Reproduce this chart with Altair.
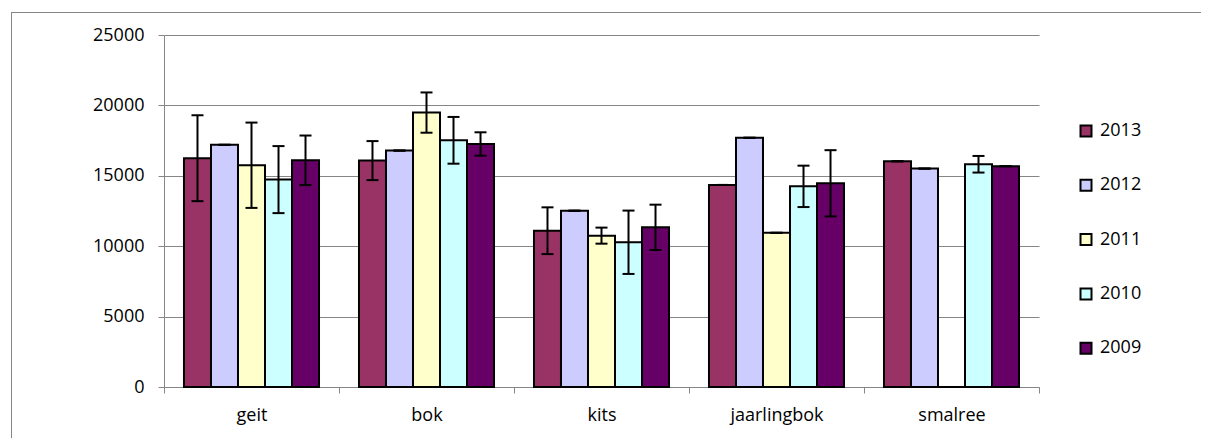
import altair as alt
import pandas as pd

categories = ["geit", "bok", "kits", "jaarlingbok", "smalree"]
years = ["2013", "2012", "2011", "2010", "2009"]
colors = ["#993366", "#CCCCFF", "#FFFFCC", "#CCFFFF", "#660066"]

v2013 = [16250, 16080, 11100, 14350, 16030]
v2012 = [17200, 16790, 12520, 17700, 15510]
v2011 = [15750, 19490, 10750, 10950, 0]
v2010 = [14730, 17520, 10280, 14250, 15820]
v2009 = [16100, 17260, 11340, 14470, 15680]

e2013 = [3050, 1385, 1660, 0, 0]
e2012 = [0, 0, 0, 0, 0]
e2011 = [3030, 1430, 570, 0, 0]
e2010 = [2380, 1660, 2250, 1470, 590]
e2009 = [1760, 830, 1610, 2350, 0]

vals = {"2013": v2013, "2012": v2012, "2011": v2011, "2010": v2010, "2009": v2009}
errs = {"2013": e2013, "2012": e2012, "2011": e2011, "2010": e2010, "2009": e2009}

rows = []
for y in years:
    for i, c in enumerate(categories):
        v = vals[y][i]
        e = errs[y][i]
        rows.append({"cat": c, "year": y, "value": v, "lo": v - e, "hi": v + e})
df = pd.DataFrame(rows)

FONT = "Open Sans"
GRAY = "#868686"
SW = 2

x_enc = alt.X("cat:N", sort=categories, title=None,
              scale=alt.Scale(paddingInner=0, paddingOuter=0),
              axis=alt.Axis(labelAngle=0, tickBand="extent", domainColor=GRAY,
                            tickColor=GRAY, tickSize=6, labelPadding=13,
                            labelFontSize=18, labelFont=FONT, labelColor="black",
                            grid=False))
xo_enc = alt.XOffset("year:N", sort=years,
                     scale=alt.Scale(paddingInner=0, paddingOuter=0.74))

bars = alt.Chart(df).mark_bar(stroke="black", strokeWidth=SW).encode(
    x=x_enc,
    xOffset=xo_enc,
    y=alt.Y("value:Q", title=None,
            scale=alt.Scale(domain=[0, 25000], nice=False),
            axis=alt.Axis(values=[0, 5000, 10000, 15000, 20000, 25000], format="d",
                          domainColor=GRAY, tickColor=GRAY, tickSize=6,
                          gridColor=GRAY, gridWidth=1, labelPadding=14,
                          labelFontSize=18, labelFont=FONT, labelColor="black")),
    fill=alt.Fill("year:N", sort=years,
                  scale=alt.Scale(domain=years, range=colors),
                  legend=alt.Legend(title=None, orient="none", legendX=913, legendY=87,
                                    symbolType="square", symbolSize=121,
                                    symbolStrokeColor="black", symbolStrokeWidth=SW,
                                    symbolOpacity=1, labelFontSize=18, labelFont=FONT,
                                    labelColor="black", rowPadding=34.3, labelOffset=5,
                                    padding=0)),
)

err = alt.Chart(df).mark_rule(color="black", strokeWidth=SW).encode(
    x=alt.X("cat:N", sort=categories),
    xOffset=alt.XOffset("year:N", sort=years),
    y="lo:Q",
    y2="hi:Q",
)
cap_hi = alt.Chart(df).mark_tick(color="black", thickness=SW, size=12, opacity=1).encode(
    x=alt.X("cat:N", sort=categories),
    xOffset=alt.XOffset("year:N", sort=years),
    y="hi:Q",
)
cap_lo = alt.Chart(df).mark_tick(color="black", thickness=SW, size=12, opacity=1).encode(
    x=alt.X("cat:N", sort=categories),
    xOffset=alt.XOffset("year:N", sort=years),
    y="lo:Q",
)

# outer chart-area frame as thin filled strips (no strokes)
frame_df = pd.DataFrame({"k": [0]})
frame_top = alt.Chart(frame_df).mark_rect(fill=GRAY, strokeWidth=0).encode(
    x=alt.value(-153), x2=alt.value(1037), y=alt.value(-23), y2=alt.value(-22))
frame_left = alt.Chart(frame_df).mark_rect(fill=GRAY, strokeWidth=0).encode(
    x=alt.value(-153), x2=alt.value(-152), y=alt.value(-23), y2=alt.value(403))

chart = alt.layer(frame_top, frame_left, bars, err, cap_hi, cap_lo).properties(
    width=875, height=352,
    autosize=alt.AutoSizeParams(type="none"),
    padding={"left": 156, "top": 27, "right": 162, "bottom": 51},
).configure_view(stroke="transparent")

chart.save("out.html", embed_options={"renderer": "svg", "actions": False})
